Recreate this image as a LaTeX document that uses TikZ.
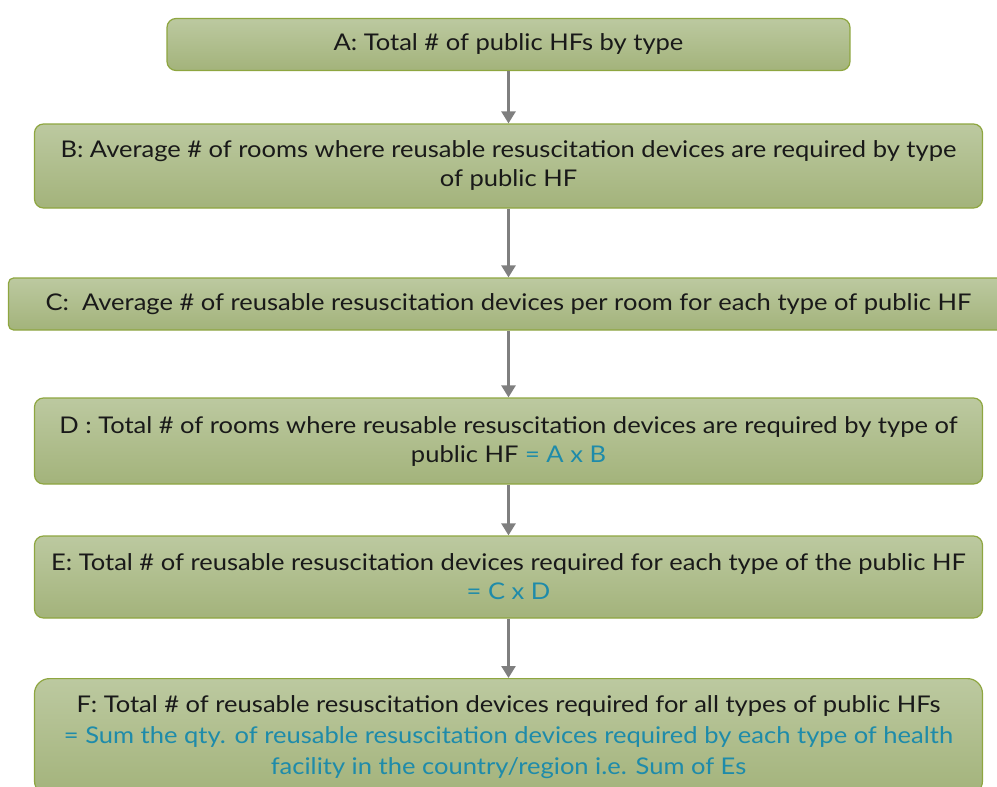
\documentclass[tikz,border=0pt]{standalone}
\usepackage{fontspec}
\setmainfont{Lato}[FakeStretch=1.11]
\usepackage{xcolor}
\usetikzlibrary{arrows.meta}
\definecolor{boxtop}{HTML}{BCC9A0}
\definecolor{boxbot}{HTML}{A3B37B}
\definecolor{boxline}{HTML}{8EA640}
\definecolor{formula}{HTML}{1E8BAA}
\definecolor{arrowgray}{HTML}{7F7F7F}
\tikzset{
  stepbox/.style={draw=boxline, line width=1.2pt, top color=boxtop, bottom color=boxbot,
    rounded corners=9pt, inner sep=0pt, align=center, text=black!90,
    font=\fontsize{23}{29}\selectfont},
  flow/.style={draw=arrowgray, line width=2.6pt, -{Triangle[width=14pt,length=12pt]}}
}
\newcommand{\eqtext}[1]{{\color{formula}#1}}

\begin{document}
\begin{tikzpicture}[x=1pt,y=-1pt]
        % 画布大小
        \useasboundingbox (0,0) rectangle (997,787);

        % 各步骤方框
        \node[stepbox, minimum width=683pt, minimum height=52pt] (A) at (508.5,44.5)
          {A: Total \# of public HFs by type};
        \node[stepbox, minimum width=948pt, minimum height=84pt] (B) at (508.5,166)
          {B: Average \# of rooms where reusable resuscitation devices are required by type\\ of public HF};
        \node[stepbox, rounded corners=5pt, minimum width=1000pt, minimum height=52pt] (C) at (508.5,304)
          {C:\ \ Average \# of reusable resuscitation devices per room for each type of public HF};
        \node[stepbox, minimum width=948pt, minimum height=86pt] (D) at (508.5,441)
          {D : Total \# of rooms where reusable resuscitation devices are required by type of\\ public HF \eqtext{= A x B}};
        \node[stepbox, minimum width=948pt, minimum height=82pt] (E) at (508.5,577)
          {E: Total \# of reusable resuscitation devices required for each type of the public HF\\ \eqtext{= C x D}};
        \node[stepbox, rounded corners=15pt, minimum width=948pt, inner ysep=17pt, anchor=north,
          font=\fontsize{23}{31}\selectfont] (F) at (508.5,678)
          {F: Total \# of reusable resuscitation devices required for all types of public HFs\\
           \eqtext{= Sum the qty. of reusable resuscitation devices required by each type of health}\\
           \eqtext{facility in the country/region i.e. Sum of Es}};

        % 箭头
        \draw[flow] (A) -- (B);
        \draw[flow] (B) -- (C);
        \draw[flow] (C) -- (D);
        \draw[flow] (D) -- (E);
        \draw[flow] (E) -- (F);
    \end{tikzpicture}
\end{document}
